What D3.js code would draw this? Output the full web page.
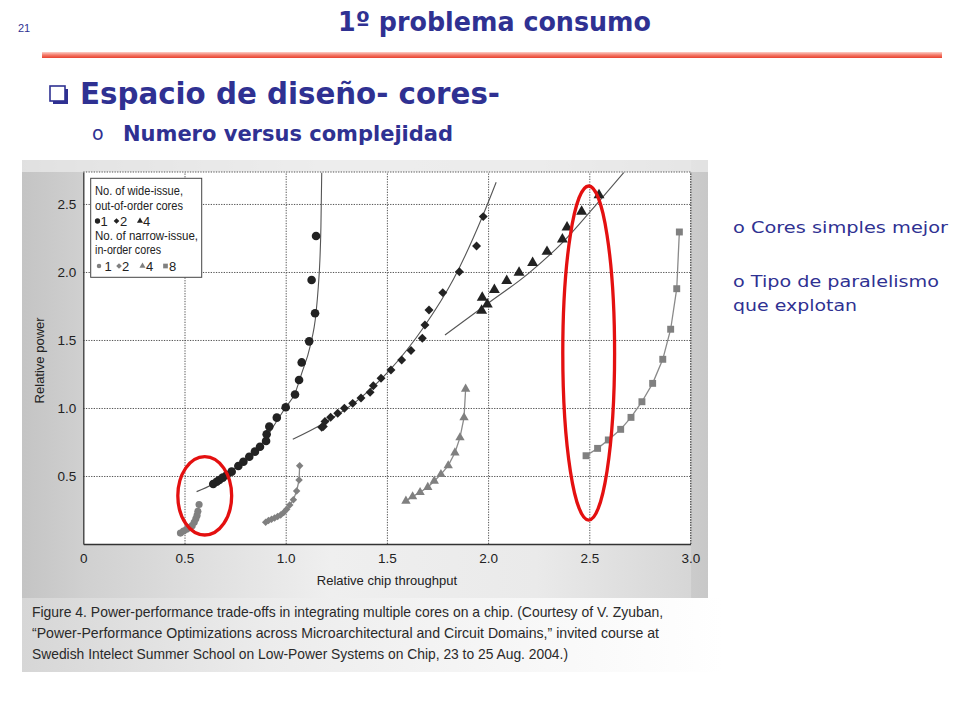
<!DOCTYPE html>
<html><head><meta charset="utf-8">
<script src="https://cdn.jsdelivr.net/npm/d3@7"></script>
<style>html,body{margin:0;padding:0;background:#fff;}svg{display:block;}</style>
</head><body>
<script>
// ---------- data ----------
const xTicks = [0, 0.5, 1, 1.5, 2, 2.5, 3];
const xTickLabels = ["0", "0.5", "1.0", "1.5", "2.0", "2.5", "3.0"];
const yTicks = [0.5, 1, 1.5, 2, 2.5];
const yTickLabels = ["0.5", "1.0", "1.5", "2.0", "2.5"];

// wide-issue, out-of-order cores
const wide1X = [0.642,0.659,0.672,0.689,0.709,0.733,0.766,0.791,0.820,0.848,0.873,0.903,0.906,0.919,0.956,1.000,1.046,1.066,1.079,1.116,1.145,1.128,1.150];
const wide1Y = [0.441,0.458,0.471,0.488,0.507,0.532,0.574,0.605,0.642,0.679,0.715,0.757,0.807,0.863,0.929,1.005,1.099,1.206,1.335,1.490,1.696,1.941,2.265];
const wide1FitX = [0.56,0.64,0.75,0.85,0.95,1.0,1.046,1.079,1.12,1.15,1.161,1.169,1.174,1.178];
const wide1FitY = [0.385,0.44,0.555,0.675,0.89,1.005,1.108,1.255,1.45,1.70,1.89,2.09,2.33,2.73];

const wide2X = [1.178,1.186,1.194,1.222,1.257,1.290,1.331,1.372,1.417,1.433,1.471,1.520,1.573,1.619,1.675,1.688,1.708,1.776,1.858,1.943,1.976];
const wide2Y = [0.858,0.863,0.900,0.932,0.961,0.998,1.034,1.074,1.115,1.164,1.218,1.279,1.353,1.422,1.512,1.610,1.721,1.848,2.002,2.191,2.407];
const wide2FitX = [1.035,1.19,1.35,1.515,1.68,1.83,1.97,2.04];
const wide2FitY = [0.77,0.89,1.05,1.28,1.59,1.95,2.40,2.66];

const wide4X = [1.968,1.996,1.971,2.031,2.092,2.153,2.220,2.291,2.367,2.390,2.462,2.548];
const wide4Y = [1.716,1.762,1.811,1.868,1.934,1.995,2.068,2.149,2.240,2.329,2.444,2.566];
const wide4FitX = [1.787,2.0,2.2,2.37,2.56,2.67];
const wide4FitY = [1.537,1.77,1.99,2.22,2.54,2.73];

// narrow-issue, in-order cores
const narrow1X = [0.480,0.495,0.510,0.525,0.538,0.548,0.556,0.562,0.566,0.572];
const narrow1Y = [0.080,0.095,0.108,0.120,0.135,0.160,0.185,0.210,0.240,0.290];
const narrow2X = [0.901,0.915,0.930,0.945,0.960,0.975,0.990,1.005,1.020,1.038,1.054,1.066,1.069];
const narrow2Y = [0.160,0.172,0.182,0.192,0.202,0.214,0.232,0.255,0.287,0.325,0.390,0.470,0.575];
const narrow4X = [1.594,1.627,1.664,1.702,1.734,1.767,1.803,1.836,1.861,1.881,1.889];
const narrow4Y = [0.316,0.348,0.380,0.417,0.463,0.512,0.576,0.671,0.782,0.929,1.140];
const narrow8X = [2.484,2.541,2.594,2.655,2.706,2.760,2.813,2.863,2.902,2.932,2.945];
const narrow8Y = [0.649,0.703,0.765,0.843,0.931,1.046,1.181,1.358,1.579,1.877,2.294];

// red highlight ellipses (data units)
const ellipseCX = [0.600, 2.497];
const ellipseCY = [0.354, 1.404];
const ellipseRX = [0.133, 0.128];
const ellipseRY = [0.288, 1.228];

const legendWideLines = ["No. of wide-issue,", "out-of-order cores"];
const legendNarrowLines = ["No. of narrow-issue,", "in-order cores"];
const legendWideKeys = ["1", "2", "4"];
const legendNarrowKeys = ["1", "2", "4", "8"];

const captionLines = [
  "Figure 4. Power-performance trade-offs in integrating multiple cores on a chip. (Courtesy of V. Zyuban,",
  "\u201CPower-Performance Optimizations across Microarchitectural and Circuit Domains,\u201D invited course at",
  "Swedish Intelect Summer School on Low-Power Systems on Chip, 23 to 25 Aug. 2004.)"
];
const sideBullets = [["o Cores simples mejor"], ["o Tipo de paralelismo", "que explotan"]];

// ---------- drawing ----------
const W = 960, H = 720;
const NAVY = "#2f3192";
const svg = d3.select("body").append("svg").attr("width", W).attr("height", H);
const defs = svg.append("defs");

const gFig = defs.append("linearGradient").attr("id","figbg").attr("x1","0").attr("x2","1").attr("y1","0").attr("y2","0");
[[0,"#c4c4c4"],[0.09,"#d0d0d0"],[0.45,"#efefef"],[0.75,"#eaeaea"],[0.975,"#d6d6d6"],[0.976,"#cbcbcb"],[1,"#c8c8c8"]]
  .forEach(s => gFig.append("stop").attr("offset", s[0]).attr("stop-color", s[1]));
const gCap = defs.append("linearGradient").attr("id","capbg").attr("x1","0").attr("x2","1").attr("y1","0").attr("y2","0");
[[0,"#d6d6d6"],[0.35,"#ececec"],[0.75,"#f8f8f8"],[1,"#ffffff"]]
  .forEach(s => gCap.append("stop").attr("offset", s[0]).attr("stop-color", s[1]));
const gRule = defs.append("linearGradient").attr("id","rule").attr("x1","0").attr("x2","0").attr("y1","0").attr("y2","1");
[[0,"#fbd0c8"],[0.5,"#f47a6a"],[1,"#e8412e"]]
  .forEach(s => gRule.append("stop").attr("offset", s[0]).attr("stop-color", s[1]));

// slide header
svg.append("text").attr("x", 18).attr("y", 32).attr("font-family","Liberation Sans, Arial, sans-serif")
  .attr("font-size", 11).attr("fill", NAVY).text("21");
svg.append("text").attr("x", 338).attr("y", 31).attr("font-family","DejaVu Sans, sans-serif")
  .attr("font-weight","bold").attr("font-size", 27).attr("fill", NAVY)
  .attr("textLength", 313).attr("lengthAdjust","spacingAndGlyphs").text("1º problema consumo");
svg.append("rect").attr("x", 42).attr("y", 52).attr("width", 900).attr("height", 6).attr("fill","url(#rule)");

// checkbox bullet
svg.append("rect").attr("x", 53).attr("y", 89).attr("width", 15).attr("height", 15).attr("fill", NAVY);
svg.append("rect").attr("x", 50).attr("y", 86).attr("width", 15).attr("height", 15).attr("fill","#fff")
  .attr("stroke", NAVY).attr("stroke-width", 1.6);
svg.append("text").attr("x", 80).attr("y", 104).attr("font-family","DejaVu Sans, sans-serif")
  .attr("font-weight","bold").attr("font-size", 31).attr("fill", NAVY)
  .attr("textLength", 420).attr("lengthAdjust","spacingAndGlyphs").text("Espacio de diseño- cores-");
svg.append("text").attr("x", 92).attr("y", 140).attr("font-family","DejaVu Sans, sans-serif")
  .attr("font-size", 19).attr("fill", NAVY).text("o");
svg.append("text").attr("x", 123).attr("y", 141).attr("font-family","DejaVu Sans, sans-serif")
  .attr("font-weight","bold").attr("font-size", 21).attr("fill", NAVY)
  .attr("textLength", 330).attr("lengthAdjust","spacingAndGlyphs").text("Numero versus complejidad");

// side bullets
const sideY = [[233], [287, 311]];
const sideLen = [[215], [206, 124]];
sideBullets.forEach((lines, i) => lines.forEach((t, j) => {
  svg.append("text").attr("x", 733).attr("y", sideY[i][j]).attr("font-family","DejaVu Sans, sans-serif")
    .attr("font-size", 16.5).attr("fill", NAVY)
    .attr("textLength", sideLen[i][j]).attr("lengthAdjust","spacingAndGlyphs").text(t);
}));

// figure background
svg.append("rect").attr("x", 22).attr("y", 160).attr("width", 686).attr("height", 438).attr("fill","url(#figbg)");
svg.append("rect").attr("x", 22).attr("y", 160).attr("width", 686).attr("height", 12).attr("fill","#ededed").attr("opacity",0.7);
svg.append("rect").attr("x", 22).attr("y", 598).attr("width", 700).attr("height", 74).attr("fill","url(#capbg)");

// plot
const x = d3.scaleLinear().domain([0, 3]).range([83.3, 690.5]);
const y = d3.scaleLinear().domain([0, 2.735]).range([544, 172]);
const plot = svg.append("g");
plot.append("rect").attr("x", x(0)).attr("y", y(2.735)).attr("width", x(3) - x(0)).attr("height", y(0) - y(2.735)).attr("fill","#fff");

// grid
const gx = d3.axisBottom(x).tickValues(xTicks.slice(1)).tickSize(-(y(0) - y(2.735))).tickFormat("");
plot.append("g").attr("transform", `translate(0,${y(0)})`).call(gx)
  .call(g => g.select(".domain").remove())
  .call(g => g.selectAll("line").attr("stroke","#555").attr("stroke-dasharray","1.3,1.3").attr("stroke-width",1));
const gy = d3.axisLeft(y).tickValues(yTicks).tickSize(-(x(3) - x(0))).tickFormat("");
plot.append("g").attr("transform", `translate(${x(0)},0)`).call(gy)
  .call(g => g.select(".domain").remove())
  .call(g => g.selectAll("line").attr("stroke","#555").attr("stroke-dasharray","1.3,1.3").attr("stroke-width",1));
plot.append("line").attr("x1", x(0)).attr("x2", x(3)).attr("y1", y(2.735)).attr("y2", y(2.735))
  .attr("stroke","#555").attr("stroke-dasharray","1.3,1.3");

// axes (labels only)
const ax = d3.axisBottom(x).tickValues(xTicks).tickSize(0).tickPadding(9).tickFormat((d, i) => xTickLabels[i]);
plot.append("g").attr("transform", `translate(0,${y(0)})`).call(ax)
  .call(g => g.select(".domain").attr("stroke","#333").attr("stroke-width",1.3))
  .call(g => g.selectAll("text").attr("font-family","Liberation Sans, Arial, sans-serif").attr("font-size",13.5).attr("fill","#222"));
const ay = d3.axisLeft(y).tickValues(yTicks).tickSize(0).tickPadding(7).tickFormat((d, i) => yTickLabels[i]);
plot.append("g").attr("transform", `translate(${x(0)},0)`).call(ay)
  .call(g => g.select(".domain").attr("stroke","#333").attr("stroke-width",1.3))
  .call(g => g.selectAll("text").attr("font-family","Liberation Sans, Arial, sans-serif").attr("font-size",13.5).attr("fill","#222"));
// right dotted border
plot.append("line").attr("x1", x(3)).attr("x2", x(3)).attr("y1", y(0)).attr("y2", y(2.735))
  .attr("stroke","#555").attr("stroke-dasharray","1.3,1.3");

svg.append("text").attr("x", (x(0) + x(3)) / 2).attr("y", 585).attr("text-anchor","middle")
  .attr("font-family","Liberation Sans, Arial, sans-serif").attr("font-size",13).attr("fill","#222")
  .text("Relative chip throughput");
svg.append("text").attr("transform", `translate(44,${y(1.35)}) rotate(-90)`).attr("text-anchor","middle")
  .attr("font-family","Liberation Sans, Arial, sans-serif").attr("font-size",13).attr("fill","#222")
  .text("Relative power");

// lines
const zip = (xs, ys) => xs.map((v, i) => [v, ys[i]]);
const smooth = d3.line().x(d => x(d[0])).y(d => y(d[1])).curve(d3.curveMonotoneX);
const straight = d3.line().x(d => x(d[0])).y(d => y(d[1]));
[[wide1FitX, wide1FitY], [wide2FitX, wide2FitY], [wide4FitX, wide4FitY]].forEach(([xs, ys]) => {
  plot.append("path").attr("d", smooth(zip(xs, ys))).attr("fill","none").attr("stroke","#555").attr("stroke-width",1.1);
});
[[narrow1X, narrow1Y], [narrow2X, narrow2Y], [narrow4X, narrow4Y], [narrow8X, narrow8Y]].forEach(([xs, ys]) => {
  plot.append("path").attr("d", straight(zip(xs, ys))).attr("fill","none").attr("stroke","#8a8a8a").attr("stroke-width",1.3);
});

// markers
const BLACK = "#222", GRAY = "#808080";
const markerDefs = {
  circle:  { type: d3.symbolCircle,  rot: 0 },
  diamond: { type: d3.symbolSquare,  rot: 45 },
  triangle:{ type: d3.symbolTriangle,rot: 0 },
  square:  { type: d3.symbolSquare,  rot: 0 }
};
function drawMarkers(xs, ys, kind, size, color) {
  const m = markerDefs[kind];
  plot.append("g").selectAll("path").data(zip(xs, ys)).join("path")
    .attr("d", d3.symbol().type(m.type).size(size))
    .attr("transform", d => `translate(${x(d[0])},${y(d[1])}) rotate(${m.rot})`)
    .attr("fill", color);
}
drawMarkers(narrow1X, narrow1Y, "circle", 40, GRAY);
drawMarkers(narrow2X, narrow2Y, "diamond", 28, GRAY);
drawMarkers(narrow4X, narrow4Y, "triangle", 38, GRAY);
drawMarkers(narrow8X, narrow8Y, "square", 48, GRAY);
drawMarkers(wide1X, wide1Y, "circle", 58, BLACK);
drawMarkers(wide2X, wide2Y, "diamond", 40, BLACK);
drawMarkers(wide4X, wide4Y, "triangle", 52, BLACK);

// legend
const lg = svg.append("g");
lg.append("rect").attr("x", 90.7).attr("y", 178.3).attr("width", 111).attr("height", 99)
  .attr("fill","#fff").attr("stroke","#444").attr("stroke-width",1);
const lgFont = "Liberation Sans, Arial, sans-serif";
const lgLens = [88, 88, 103, 66];
[[legendWideLines[0],195],[legendWideLines[1],209.5],[legendNarrowLines[0],239.5],[legendNarrowLines[1],254]]
  .forEach((d, i) => lg.append("text").attr("x", 95).attr("y", d[1]).attr("font-family", lgFont)
    .attr("font-size", 13).attr("fill","#222").attr("textLength", lgLens[i]).attr("lengthAdjust","spacingAndGlyphs").text(d[0]));
const kinds = ["circle","diamond","triangle","square"];
const wideSymX = [97.5, 116.5, 140], wideTxtX = [100.5, 120, 143];
legendWideKeys.forEach((k, i) => {
  const m = markerDefs[kinds[i]];
  lg.append("path").attr("d", d3.symbol().type(m.type).size(i === 0 ? 22 : 16))
    .attr("transform", `translate(${wideSymX[i]},${221}) rotate(${m.rot})`).attr("fill", BLACK);
  lg.append("text").attr("x", wideTxtX[i]).attr("y", 225.5).attr("font-family", lgFont).attr("font-size", 13).attr("fill","#222").text(k);
});
const narSymX = [99, 119, 142.5, 165.5], narTxtX = [104.5, 122, 146, 169];
legendNarrowKeys.forEach((k, i) => {
  const m = markerDefs[kinds[i]];
  lg.append("path").attr("d", d3.symbol().type(m.type).size(i === 3 ? 22 : 16))
    .attr("transform", `translate(${narSymX[i]},${266}) rotate(${m.rot})`).attr("fill", GRAY);
  lg.append("text").attr("x", narTxtX[i]).attr("y", 270.5).attr("font-family", lgFont).attr("font-size", 13).attr("fill","#222").text(k);
});

// red ellipses
ellipseCX.forEach((cx, i) => {
  svg.append("ellipse").attr("cx", x(cx)).attr("cy", y(ellipseCY[i]))
    .attr("rx", x(ellipseRX[i]) - x(0)).attr("ry", y(0) - y(ellipseRY[i]))
    .attr("fill","none").attr("stroke","#e41010").attr("stroke-width", 3.3);
});

// caption
const capLens = [631, 627, 536];
captionLines.forEach((t, i) => {
  svg.append("text").attr("x", 32).attr("y", 617 + i * 21).attr("font-family", lgFont)
    .attr("font-size", 14.5).attr("fill","#2a2a2a")
    .attr("textLength", capLens[i]).attr("lengthAdjust","spacingAndGlyphs").text(t);
});
</script>
</body></html>
